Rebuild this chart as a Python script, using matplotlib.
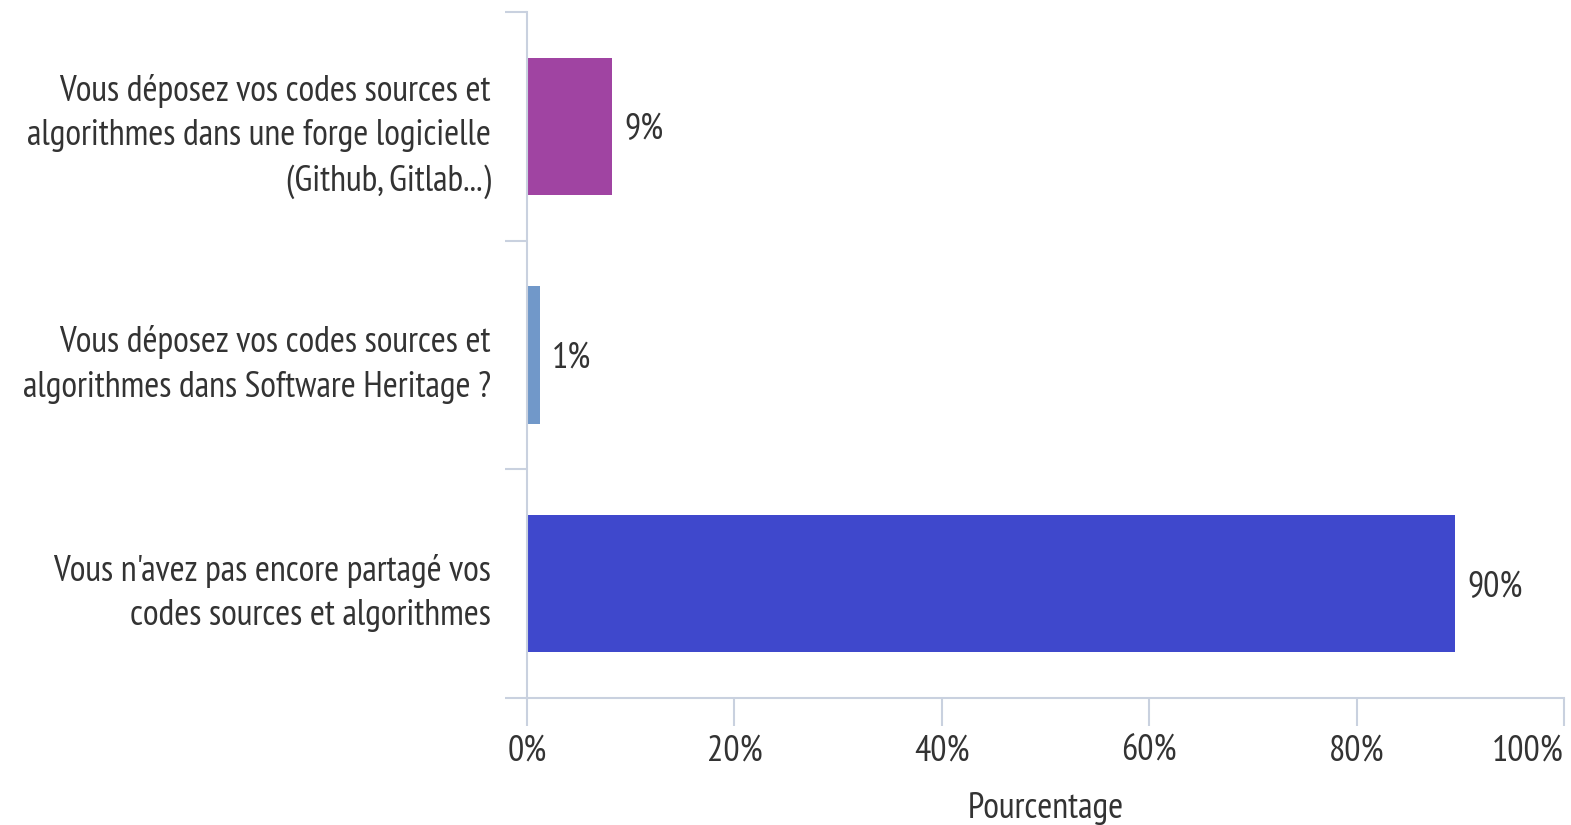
import matplotlib.pyplot as plt
from matplotlib.ticker import FixedLocator, PercentFormatter

plt.rcParams['font.family'] = ['PT Sans Narrow', 'Roboto Condensed', 'DejaVu Sans']

# Survey answers (top to bottom)
categories = [
    "Vous déposez vos codes sources et\nalgorithmes dans une forge logicielle\n(Github, Gitlab...)",
    "Vous déposez vos codes sources et\nalgorithmes dans Software Heritage ?",
    "Vous n'avez pas encore partagé vos\ncodes sources et algorithmes",
]
values = [8.2, 1.2, 89.5]
value_labels = ["9%", "1%", "90%"]
colors = ["#A044A2", "#7198C9", "#3F48CC"]

axis_color = "#C9D1DF"
text_color = "#333333"
fs = 26

fig = plt.figure(figsize=(15.71, 8.25), dpi=100)
ax = fig.add_axes([0.3355, 0.154, 0.66, 0.8315])

pos = list(range(len(categories)))
bars = ax.barh(pos, values, height=0.6, color=colors)
for b, lab in zip(bars, value_labels):
    ax.text(b.get_width() + 1.2, b.get_y() + b.get_height() / 2, lab,
            va='center_baseline', ha='left', fontsize=fs, color=text_color)

ax.set_ylim(len(categories) - 0.5, -0.5)
ax.set_xlim(0, 100)
ax.set_yticks(pos)
ax.set_yticklabels(categories, fontsize=fs, color=text_color, linespacing=1.45)
ax.yaxis.set_minor_locator(FixedLocator([-0.5, 0.5, 1.5, 2.5]))
ax.tick_params(axis='y', which='major', length=0, pad=26)
ax.tick_params(axis='y', which='minor', length=16, width=1.5, color=axis_color)

ax.set_xticks([0, 20, 40, 60, 80, 100])
ax.xaxis.set_major_formatter(PercentFormatter(decimals=0))
ax.tick_params(axis='x', length=20, width=1.5, color=axis_color, labelsize=fs,
               labelcolor=text_color, pad=6)
ax.set_xlabel("Pourcentage", fontsize=fs, color=text_color, labelpad=18)
# keep the last tick label inside the canvas
ax.get_xticklabels()[-1].set_horizontalalignment('right')

for s in ['top', 'right']:
    ax.spines[s].set_visible(False)
for s in ['left', 'bottom']:
    ax.spines[s].set_color(axis_color)
    ax.spines[s].set_linewidth(1.5)

fig.savefig("out.png", dpi=100)
